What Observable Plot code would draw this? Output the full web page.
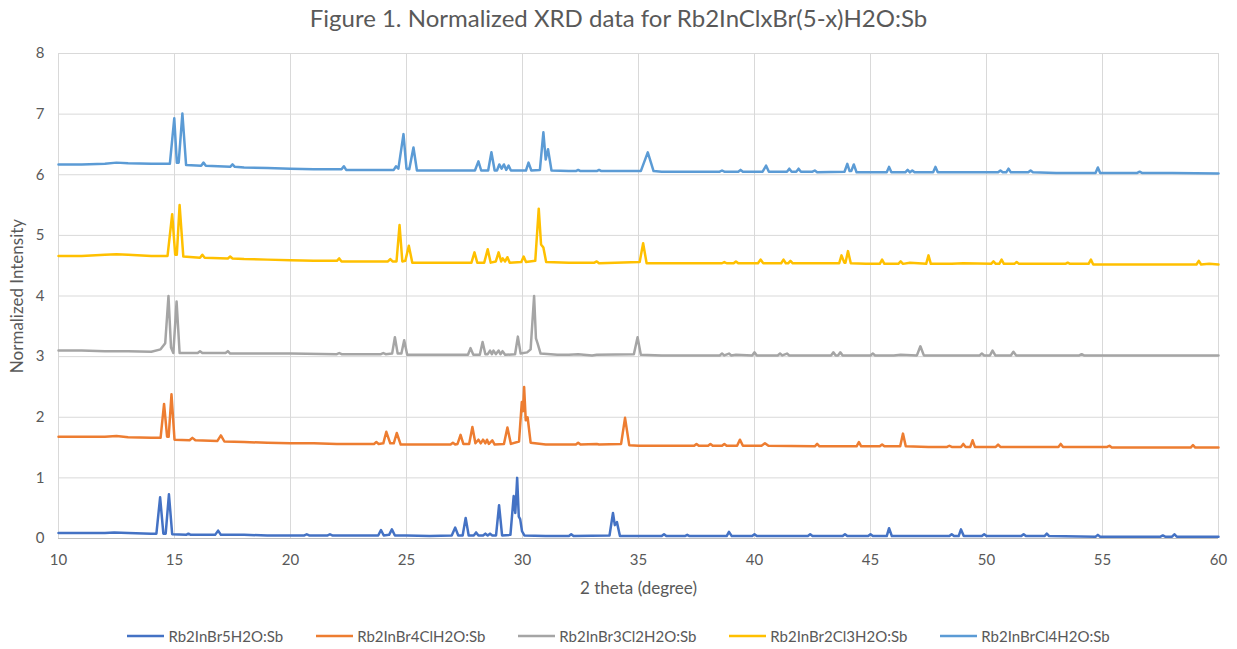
<!DOCTYPE html>
<html><head><meta charset="utf-8">
<script src="https://cdn.jsdelivr.net/npm/d3@7"></script>
<script src="https://cdn.jsdelivr.net/npm/@observablehq/plot@0.6"></script>
<style>
body{margin:0;background:#fff;font-family:Lato,"Open Sans",sans-serif;}
#title{height:40px;line-height:36px;text-align:center;font-size:24px;color:#595959;}
#legend{display:flex;justify-content:center;gap:33px;font-size:15px;color:#595959;margin-top:21px;line-height:20px;}
#legend .it{display:flex;align-items:center;gap:4px;}
</style></head>
<body>
<div id="title">Figure 1. Normalized XRD data for Rb2InClxBr(5-x)H2O:Sb</div>
<div id="chart"></div>
<div id="legend"></div>
<script>
const seriesNames = ["Rb2InBr5H2O:Sb","Rb2InBr4ClH2O:Sb","Rb2InBr3Cl2H2O:Sb","Rb2InBr2Cl3H2O:Sb","Rb2InBrCl4H2O:Sb"];
const seriesColors = ["#4472C4","#ED7D31","#A5A5A5","#FFC000","#5B9BD5"];
const xTicks = [10,15,20,25,30,35,40,45,50,55,60];
const yTicks = [0,1,2,3,4,5,6,7,8];

const rb2InBr5 = [
[10,0.09],[11,0.09],[12,0.09],[12.4,0.1],[13,0.09],[14,0.08],[14.22,0.08],
[14.38,0.68],[14.52,0.08],[14.62,0.08],[14.76,0.73],[14.9,0.07],
[15.5,0.06],[15.6,0.08],[15.7,0.06],
[16.75,0.06],[16.88,0.13],[17.0,0.06],
[18,0.06],[19,0.05],[20,0.05],[20.6,0.05],[20.7,0.07],[20.8,0.05],
[21.6,0.05],[21.7,0.07],[21.8,0.05],
[23.0,0.05],[23.78,0.05],[23.9,0.14],[24.02,0.05],[24.25,0.06],[24.37,0.15],[24.5,0.05],
[25,0.05],[26,0.04],[26.95,0.05],[27.1,0.18],[27.23,0.05],[27.42,0.05],[27.55,0.34],[27.68,0.05],
[27.9,0.05],[28.0,0.1],[28.1,0.05],[28.3,0.05],[28.4,0.08],[28.5,0.05],[28.6,0.08],[28.7,0.05],
[28.86,0.05],[28.99,0.55],[29.12,0.05],
[29.48,0.06],[29.62,0.7],[29.69,0.42],[29.77,1.0],[29.84,0.36],[29.9,0.32],[29.98,0.12],[30.08,0.05],
[31,0.04],[32,0.04],[32.1,0.07],[32.2,0.04],
[33.75,0.05],[33.9,0.42],[33.98,0.22],[34.07,0.27],[34.2,0.04],
[35,0.04],[36,0.04],[36.1,0.07],[36.2,0.04],
[37,0.04],[37.1,0.06],[37.2,0.04],[38,0.04],
[38.8,0.04],[38.9,0.11],[39.02,0.04],
[39.9,0.04],[40.0,0.07],[40.1,0.04],
[41,0.04],[42.3,0.04],[42.4,0.07],[42.5,0.04],
[43.8,0.04],[43.9,0.07],[44.0,0.04],
[44.9,0.04],[45.0,0.07],[45.1,0.04],
[45.7,0.04],[45.8,0.17],[45.92,0.04],
[47,0.04],[48.4,0.04],[48.5,0.07],[48.6,0.04],
[48.8,0.04],[48.9,0.15],[49.02,0.04],
[49.8,0.04],[49.9,0.07],[50.0,0.04],
[51.5,0.04],[51.6,0.07],[51.7,0.04],
[52.5,0.04],[52.6,0.08],[52.7,0.04],
[54.7,0.03],[54.8,0.06],[54.9,0.03],
[56,0.03],[57.5,0.03],[57.6,0.05],[57.7,0.03],[58.0,0.03],[58.1,0.07],[58.2,0.03],
[59,0.03],[60,0.03]
];

const rb2InBr4Cl = [
[10,1.68],[11,1.68],[12,1.68],[12.5,1.69],[13,1.67],[14,1.66],[14.4,1.66],
[14.55,2.22],[14.68,1.68],[14.75,1.68],[14.87,2.38],[15.0,1.63],
[15.65,1.62],[15.77,1.66],[15.9,1.62],
[16.85,1.61],[17.0,1.70],[17.15,1.6],
[18,1.59],[19,1.58],[20,1.57],[21,1.57],[22,1.56],[23,1.56],[23.6,1.56],[23.7,1.59],[23.8,1.56],
[24.0,1.57],[24.13,1.76],[24.3,1.57],[24.45,1.57],[24.58,1.74],[24.75,1.55],
[25,1.55],[26,1.55],[26.9,1.55],[27.0,1.58],[27.1,1.55],[27.2,1.56],[27.33,1.71],[27.45,1.56],
[27.7,1.56],[27.84,1.84],[27.97,1.57],[28.1,1.63],[28.2,1.57],[28.3,1.63],[28.4,1.57],[28.47,1.63],[28.55,1.56],[28.7,1.62],[28.8,1.55],
[29.2,1.56],[29.35,1.83],[29.5,1.56],
[29.85,1.6],[29.97,2.25],[30.02,2.1],[30.07,2.5],[30.14,1.95],[30.22,2.0],[30.35,1.58],
[31,1.55],[32,1.55],[32.3,1.55],[32.4,1.58],[32.5,1.55],[33.2,1.56],[33.3,1.55],[34.25,1.56],
[34.42,1.99],[34.6,1.54],
[35,1.53],[36,1.53],[37.4,1.53],[37.5,1.56],[37.6,1.53],[38.0,1.53],[38.1,1.56],[38.2,1.53],[38.6,1.53],[38.7,1.56],[38.8,1.53],
[39.25,1.53],[39.37,1.63],[39.5,1.53],
[40.3,1.53],[40.45,1.57],[40.6,1.53],[42.6,1.52],[42.7,1.56],[42.8,1.52],
[44.4,1.52],[44.5,1.59],[44.6,1.52],[45.4,1.52],[45.5,1.55],[45.6,1.52],
[46.28,1.52],[46.4,1.73],[46.52,1.52],
[47.5,1.51],[48.3,1.51],[48.4,1.53],[48.5,1.51],[48.9,1.51],[49.0,1.56],[49.1,1.51],[49.3,1.51],[49.4,1.62],[49.5,1.51],
[50.4,1.51],[50.5,1.55],[50.6,1.51],[52,1.51],[53.1,1.51],[53.2,1.56],[53.3,1.51],
[55.2,1.51],[55.3,1.53],[55.4,1.5],[56,1.5],[58.8,1.5],[58.9,1.54],[59.0,1.5],[60,1.5]
];

const rb2InBr3Cl2 = [
[10,3.1],[11,3.1],[12,3.09],[13,3.09],[14,3.08],[14.4,3.12],[14.6,3.22],[14.74,4.0],[14.85,3.15],[14.95,3.06],[15.09,3.91],[15.22,3.06],
[16.0,3.06],[16.1,3.09],[16.2,3.06],[17.2,3.06],[17.3,3.09],[17.4,3.05],
[18,3.05],[20,3.05],[22,3.04],[22.1,3.06],[22.2,3.04],[23.9,3.04],[24.0,3.06],[24.1,3.04],
[24.38,3.05],[24.5,3.32],[24.62,3.05],[24.78,3.05],[24.9,3.27],[25.03,3.03],
[26,3.03],[27,3.03],[27.65,3.03],[27.76,3.14],[27.88,3.03],[28.16,3.03],[28.28,3.24],[28.4,3.04],[28.5,3.04],
[28.6,3.1],[28.68,3.04],[28.75,3.1],[28.85,3.04],[28.97,3.1],[29.05,3.04],[29.14,3.09],[29.25,3.03],
[29.68,3.04],[29.8,3.33],[29.92,3.05],[30.2,3.07],[30.35,3.12],[30.5,4.0],[30.58,3.3],[30.65,3.22],[30.78,3.05],
[31.5,3.03],[32,3.03],[32.4,3.04],[33,3.02],[33.2,3.03],[34.8,3.04],[34.96,3.32],[35.1,3.03],
[36,3.02],[37,3.02],[37.5,3.02],[38.5,3.02],[38.6,3.05],[38.7,3.02],[38.9,3.05],[39.0,3.02],[39.2,3.03],[39.9,3.02],[40.0,3.07],[40.1,3.02],
[41.0,3.02],[41.1,3.05],[41.2,3.02],[41.4,3.05],[41.5,3.02],[42.3,3.02],[43.3,3.02],[43.4,3.07],[43.5,3.02],[43.6,3.02],[43.7,3.07],[43.8,3.02],
[45.0,3.02],[45.1,3.05],[45.2,3.02],[46.0,3.02],[46.3,3.03],[47.0,3.02],[47.15,3.17],[47.3,3.02],
[48.5,3.02],[49.7,3.02],[49.8,3.05],[49.9,3.02],[50.15,3.02],[50.26,3.1],[50.38,3.02],[51.05,3.02],[51.16,3.08],[51.28,3.02],
[53,3.02],[54.0,3.02],[54.1,3.04],[54.2,3.02],[56,3.02],[60,3.02]
];

const rb2InBr2Cl3 = [
[10,4.66],[11,4.66],[12,4.68],[12.5,4.69],[13,4.68],[14,4.66],[14.7,4.66],[14.9,5.35],[15.03,4.68],[15.1,4.68],[15.22,5.5],[15.38,4.65],
[16.1,4.63],[16.2,4.68],[16.3,4.63],[17.3,4.62],[17.4,4.65],[17.5,4.62],
[18,4.61],[19,4.6],[20,4.59],[21,4.58],[22,4.58],[22.1,4.62],[22.2,4.57],[23,4.57],[24.2,4.57],[24.3,4.61],[24.4,4.57],
[24.57,4.57],[24.7,5.17],[24.82,4.57],[24.95,4.58],[25.1,4.83],[25.25,4.55],
[26,4.55],[27,4.55],[27.8,4.55],[27.93,4.72],[28.05,4.55],[28.35,4.55],[28.5,4.77],[28.63,4.55],[28.85,4.57],[28.97,4.72],[29.08,4.57],
[29.15,4.62],[29.25,4.57],[29.35,4.64],[29.45,4.55],[29.95,4.56],[30.05,4.65],[30.15,4.56],
[30.55,4.58],[30.7,5.44],[30.8,4.85],[30.9,4.8],[31.02,4.56],
[32,4.55],[33.1,4.55],[33.2,4.57],[33.3,4.54],[35.05,4.56],[35.2,4.87],[35.35,4.54],
[36,4.54],[37,4.54],[38.6,4.54],[38.7,4.56],[38.8,4.54],[39.1,4.54],[39.2,4.57],[39.3,4.54],
[40.15,4.54],[40.26,4.6],[40.38,4.54],[41.15,4.54],[41.25,4.6],[41.35,4.54],[41.45,4.54],[41.55,4.58],[41.65,4.54],
[42.5,4.54],[43.65,4.54],[43.75,4.67],[43.87,4.55],[43.92,4.55],[44.03,4.74],[44.15,4.54],
[44.8,4.53],[45.4,4.53],[45.5,4.6],[45.6,4.53],[46.2,4.53],[46.3,4.57],[46.4,4.53],[46.7,4.55],
[47.4,4.53],[47.5,4.67],[47.6,4.53],[48.5,4.53],[49.0,4.54],[50.2,4.53],[50.3,4.57],[50.4,4.53],[50.55,4.53],[50.65,4.6],[50.75,4.53],
[51.2,4.53],[51.3,4.56],[51.4,4.53],[52.5,4.53],[53.4,4.53],[53.5,4.55],[53.6,4.53],
[54.4,4.53],[54.5,4.6],[54.6,4.52],[55.5,4.52],[57,4.52],[58.5,4.52],[59.05,4.52],[59.15,4.58],[59.25,4.52],[59.6,4.53],[60,4.52]
];

const rb2InBrCl4 = [
[10,6.17],[11,6.17],[12,6.18],[12.5,6.2],[13,6.19],[14,6.18],[14.8,6.18],[14.99,6.93],[15.1,6.2],[15.18,6.2],[15.34,7.01],[15.5,6.16],
[16.15,6.15],[16.25,6.2],[16.35,6.15],[17.4,6.13],[17.5,6.17],[17.6,6.13],
[18,6.12],[19,6.11],[20,6.1],[21,6.09],[22.2,6.09],[22.3,6.14],[22.4,6.08],[24,6.08],[24.45,6.08],[24.55,6.14],[24.65,6.1],
[24.87,6.67],[25.0,6.1],[25.12,6.09],[25.3,6.45],[25.45,6.07],
[26,6.07],[27,6.07],[27.95,6.07],[28.1,6.22],[28.22,6.07],[28.52,6.07],[28.66,6.37],[28.8,6.07],
[28.9,6.07],[29.0,6.17],[29.1,6.1],[29.2,6.17],[29.3,6.08],[29.4,6.15],[29.5,6.07],
[30.15,6.07],[30.26,6.2],[30.38,6.07],[30.75,6.08],[30.9,6.7],[31.0,6.25],[31.1,6.42],[31.25,6.07],
[32,6.06],[32.3,6.06],[32.4,6.08],[32.5,6.06],[33.2,6.06],[33.3,6.08],[33.4,6.06],
[35.1,6.06],[35.4,6.37],[35.65,6.06],
[36,6.05],[37,6.05],[38,6.05],[38.5,6.05],[38.6,6.07],[38.7,6.05],[39.3,6.05],[39.4,6.08],[39.5,6.05],
[40.35,6.05],[40.5,6.15],[40.62,6.05],[41.4,6.05],[41.5,6.1],[41.6,6.05],[41.8,6.05],[41.9,6.1],[42.0,6.05],
[42.5,6.05],[42.6,6.07],[42.7,6.04],[43.88,6.05],[44.0,6.18],[44.1,6.06],[44.17,6.06],[44.28,6.17],[44.4,6.04],
[45,6.04],[45.7,6.04],[45.8,6.13],[45.9,6.04],[46.5,6.04],[46.6,6.08],[46.7,6.04],[46.8,6.07],[46.9,6.04],
[47.7,6.04],[47.8,6.13],[47.9,6.04],[49,6.04],[50.5,6.04],[50.6,6.07],[50.7,6.04],[50.85,6.04],[50.95,6.1],[51.05,6.04],
[51.8,6.04],[51.9,6.07],[52.0,6.04],[53,6.03],[54.7,6.03],[54.8,6.12],[54.9,6.03],[56.5,6.03],[56.6,6.05],[56.7,6.03],[58,6.03],[60,6.02]
];

const seriesData = [rb2InBr5, rb2InBr4Cl, rb2InBr3Cl2, rb2InBr2Cl3, rb2InBrCl4];

const lineMarks = seriesData.map((d, i) => Plot.line(d, {
  x: p => p[0], y: p => p[1],
  stroke: seriesColors[i], strokeWidth: 2.5, strokeLinejoin: "round", strokeLinecap: "round"
}));

const chart = Plot.plot({
  width: 1237,
  height: 565,
  marginTop: 13,
  marginBottom: 67,
  marginLeft: 58,
  marginRight: 19,
  style: {fontFamily: "Lato, 'Open Sans', sans-serif", fontSize: "15px", color: "#595959", background: "#fff"},
  x: {domain: [10, 60]},
  y: {domain: [0, 8]},
  marks: [
    Plot.gridX(xTicks, {stroke: "#d9d9d9", strokeOpacity: 1, strokeWidth: 1}),
    Plot.gridY(yTicks, {stroke: "#d9d9d9", strokeOpacity: 1, strokeWidth: 1}),
    Plot.ruleY([0], {stroke: "#bfbfbf", strokeWidth: 1}),
    Plot.axisX(xTicks, {tickSize: 0, tickPadding: 16, label: null, fontSize: 15, tickFormat: d3.format("d")}),
    Plot.axisY(yTicks, {tickSize: 0, tickPadding: 14, label: null, fontSize: 15, tickFormat: d3.format("d")}),
    Plot.text(["2 theta (degree)"], {frameAnchor: "bottom", dy: 50, fontSize: 17, fill: "#595959", lineAnchor: "middle"}),
    Plot.text(["Normalized Intensity"], {frameAnchor: "left", dx: -41, rotate: -90, textAnchor: "middle", fontSize: 17, fill: "#595959"}),
    ...lineMarks
  ]
});
document.getElementById("chart").appendChild(chart);

const legend = document.getElementById("legend");
seriesNames.forEach((name, i) => {
  const it = document.createElement("div");
  it.className = "it";
  it.innerHTML = `<svg width="37" height="6"><line x1="0" y1="3" x2="37" y2="3" stroke="${seriesColors[i]}" stroke-width="2.5"/></svg><span>${name}</span>`;
  legend.appendChild(it);
});
</script>
</body></html>
